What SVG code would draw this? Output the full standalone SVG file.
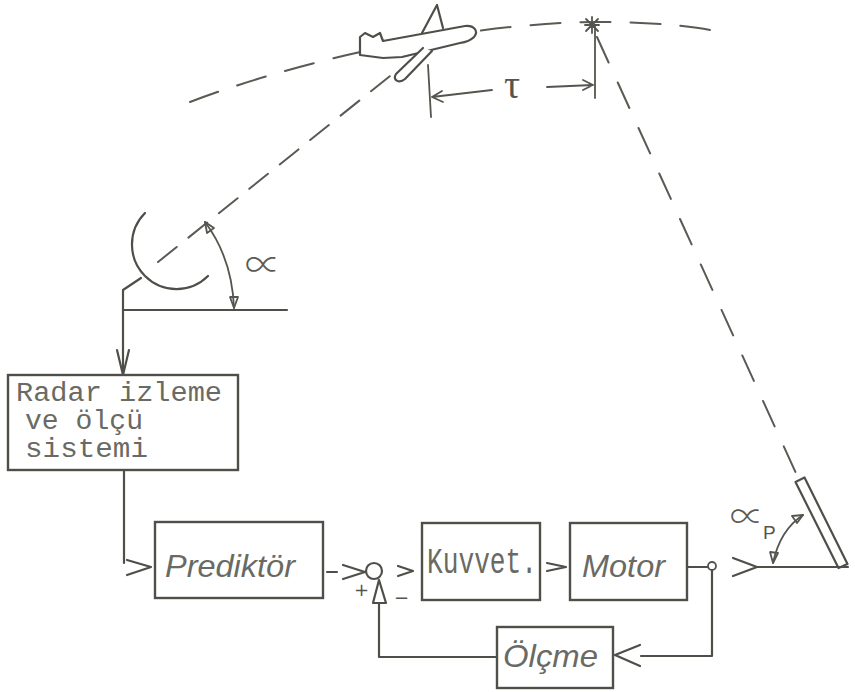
<svg xmlns="http://www.w3.org/2000/svg" width="855" height="692" viewBox="0 0 855 692">
  <style>
    .ln { fill: none; stroke: #4f4f4a; stroke-width: 2.2; stroke-linecap: round; stroke-linejoin: round; }
    .thin { fill: none; stroke: #55554f; stroke-width: 1.8; stroke-linecap: round; stroke-linejoin: round; }
    .dash { fill: none; stroke: #5a5a54; stroke-width: 2; stroke-linecap: round; }
    .box { fill: #ffffff; stroke: #4f4f4a; stroke-width: 2.4; }
    .mono { font-family: "Liberation Mono", "DejaVu Sans Mono", monospace; fill: #6a6a64; }
    .ital { font-family: "Liberation Sans", Arial, sans-serif; font-style: italic; fill: #6a6a64; }
    .sym { font-family: "DejaVu Sans", "Liberation Sans", sans-serif; fill: #555550; }
    .angle { font-family: "Noto Sans CJK JP", "DejaVu Sans", sans-serif; font-weight: 300; fill: #5a5a54; }
    .serif { font-family: "Liberation Serif", "DejaVu Serif", serif; fill: #555550; }
  </style>

  <!-- flight path and sight lines -->
  <g id="geometry">
    <path class="dash" d="M190,102 C300,60 470,22 600,22 C650,22 690,26 710,30" stroke-dasharray="30 20"/>
    <path class="dash" d="M158,262 L395,72" stroke-dasharray="24 15"/>
    <path class="dash" d="M597,37 L800,482" stroke-dasharray="28 22"/>
  </g>

  <!-- aircraft -->
  <g id="aircraft">
    <path class="ln" fill="#fff" d="M422,33 L437,5 L443,28"/>
    <path class="ln" style="fill:#fff" d="M383,41 L465,26 C474,25 479,31 474,37 C471,40 467,42 460,43 L402,57 L383,58 L360,55 L360,37 L365,33 L373,37 L380,33 Z"/>
    <path class="ln" style="fill:#fff" d="M423,48 L396,74 C392,80 399,84 405,79 L432,51"/>
  </g>

  <!-- predicted impact point -->
  <g id="target-point">
    <path class="thin" d="M586,19 L598,31 M598,19 L586,31 M592,17 L592,33 M585,25 L599,25"/>
  </g>

  <!-- lead time dimension -->
  <g id="lead-time">
    <path class="thin" d="M428,65 L431,117"/>
    <path class="thin" d="M595,25 L595,98"/>
    <path class="thin" d="M492,90 L432,97 M442,91 L432,97 L443,102"/>
    <path class="thin" d="M547,87 L593,85 M583,80 L593,85 L583,90"/>
    <text class="serif" x="504" y="98" font-size="40">τ</text>
  </g>

  <!-- radar antenna -->
  <g id="radar-antenna">
    <path class="ln" d="M145,213 A43,43 0 0 0 208,276"/>
    <path class="ln" d="M141,278 L123,290 L123,372"/>
    <path class="ln" d="M123,310 L287,310"/>
    <path class="thin" d="M205,222 Q232,258 234,308"/>
    <path class="thin" d="M205,222 L207,233 L214,228 Z" fill="#55554f"/>
    <path class="thin" d="M234,308 L230,297 L238,297 Z" fill="#55554f"/>
    <text class="angle" x="245" y="278" font-size="36">∝</text>
  </g>

  <!-- gun -->
  <g id="gun">
    <path class="ln" d="M795.5,482 L804.5,477.5 L847.5,564 L838.5,568 Z"/>
    <path class="ln" d="M757,567 L848,567"/>
    <path class="thin" d="M803,515 Q780,530 773,563"/>
    <path class="thin" d="M803,515 L792,516 L797,523 Z" fill="#55554f"/>
    <path class="thin" d="M773,563 L770,552 L778,553 Z" fill="#55554f"/>
    <text class="angle" x="730" y="529" font-size="34">∝</text>
    <text class="sym" x="763" y="539" font-size="19" style="font-family:'Liberation Sans',sans-serif">P</text>
  </g>

  <!-- blocks -->
  <g id="radar-system">
    <rect class="box" x="8" y="375" width="230" height="95"/>
    <text class="mono" x="16" y="401" font-size="27" textLength="206" lengthAdjust="spacingAndGlyphs">Radar izleme</text>
    <text class="mono" x="25" y="429" font-size="27" textLength="118" lengthAdjust="spacingAndGlyphs">ve ölçü</text>
    <text class="mono" x="25" y="457" font-size="27" textLength="123" lengthAdjust="spacingAndGlyphs">sistemi</text>
  </g>

  <g id="predictor">
    <rect class="box" x="155" y="522" width="168" height="76"/>
    <text class="ital" x="165" y="577" font-size="32" textLength="130" lengthAdjust="spacingAndGlyphs">Prediktör</text>
  </g>

  <g id="summing-junction">
    <circle class="ln" cx="374" cy="571" r="8"/>
    <text class="sym" x="354" y="596" font-size="18">+</text>
    <text class="sym" x="394" y="604" font-size="18">−</text>
  </g>

  <g id="amplifier">
    <rect class="box" x="422" y="523" width="118" height="77"/>
    <text class="mono" x="427" y="573" font-size="36" textLength="110" lengthAdjust="spacingAndGlyphs">Kuvvet.</text>
  </g>

  <g id="motor">
    <rect class="box" x="570" y="523" width="117" height="77"/>
    <text class="ital" x="582" y="577" font-size="32" textLength="83" lengthAdjust="spacingAndGlyphs">Motor</text>
  </g>

  <g id="measurement">
    <rect class="box" x="497" y="627" width="116" height="61"/>
    <text class="ital" x="503" y="667" font-size="32" textLength="95" lengthAdjust="spacingAndGlyphs">Ölçme</text>
  </g>

  <!-- signal connectors -->
  <g id="connectors">
    <path class="ln" d="M117,350 L123,375 L129,350"/>
    <path class="ln" d="M124,470 L124,563"/>
    <path class="ln" d="M127,560 L151,567 L127,575"/>
    <path class="ln" d="M327,572 L337,572"/>
    <path class="ln" d="M343,565 L365,572 L343,579"/>
    <path class="ln" d="M398,566 L413,571 L398,576"/>
    <path class="ln" d="M547,563 L566,567 L547,571"/>
    <path class="ln" d="M687,567 L708,567"/>
    <circle class="thin" cx="712" cy="566" r="4"/>
    <path class="ln" d="M733,558 L757,567 L733,576"/>
    <path class="ln" d="M712,570 L712,656 L641,656"/>
    <path class="ln" d="M640,645 L615,655 L640,666"/>
    <path class="ln" d="M379,580 L373,603 L386,603 Z"/>
    <path class="ln" d="M379,603 L379,657 L497,657"/>
  </g>
</svg>
